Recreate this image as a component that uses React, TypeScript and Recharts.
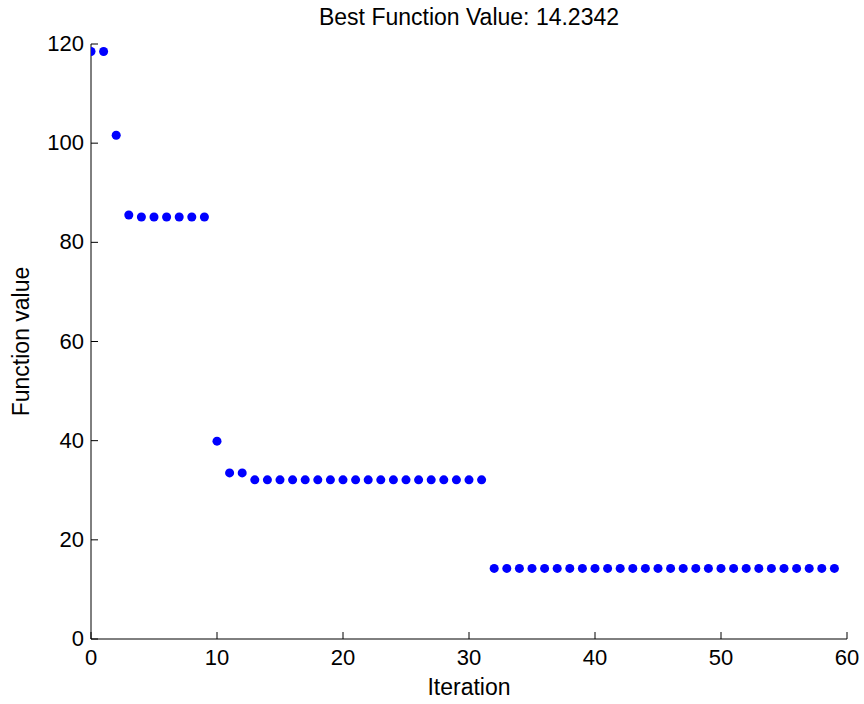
import { ScatterChart, Scatter, XAxis, YAxis, ZAxis, Label } from 'recharts';

const FONT = '"Liberation Sans", Arial, sans-serif';

// best function value at each iteration
const iterations = Array.from({ length: 60 }, (_, i) => i);
const bestValues = [
  118.5, 118.5, 101.6, 85.5, 85.1, 85.1, 85.1, 85.1, 85.1, 85.1,
  39.9, 33.5, 33.5, 32.1, 32.1, 32.1, 32.1, 32.1, 32.1, 32.1,
  32.1, 32.1, 32.1, 32.1, 32.1, 32.1, 32.1, 32.1, 32.1, 32.1,
  32.1, 32.1, 14.2342, 14.2342, 14.2342, 14.2342, 14.2342, 14.2342, 14.2342, 14.2342,
  14.2342, 14.2342, 14.2342, 14.2342, 14.2342, 14.2342, 14.2342, 14.2342, 14.2342, 14.2342,
  14.2342, 14.2342, 14.2342, 14.2342, 14.2342, 14.2342, 14.2342, 14.2342, 14.2342, 14.2342,
];
const xTicks = [0, 10, 20, 30, 40, 50, 60];
const yTicks = [0, 20, 40, 60, 80, 100, 120];
const title = 'Best Function Value: 14.2342';

const data = iterations.map((it, i) => ({ it, val: bestValues[i] }));

// MATLAB style: tick marks point into the plot
const XTick = (props: any) => {
  const { x, y, payload } = props;
  return (
    <g>
      <line x1={x} x2={x} y1={y} y2={y - 7} stroke="#000" />
      <text x={x} y={y + 26} textAnchor="middle" fontSize={22} fill="#000" fontFamily={FONT}>
        {payload.value}
      </text>
    </g>
  );
};

const YTick = (props: any) => {
  const { x, y, payload } = props;
  return (
    <g>
      <line x1={x} x2={x + 7} y1={y} y2={y} stroke="#000" />
      <text x={x - 7} y={y + 7} textAnchor="end" fontSize={22} fill="#000" fontFamily={FONT}>
        {payload.value}
      </text>
    </g>
  );
};

export default function App() {
  return (
    <div style={{ position: 'absolute', left: 0, top: 0, width: 864, height: 704, background: '#fff' }}>
      <div
        style={{
          position: 'absolute',
          left: 91,
          width: 756,
          top: 4,
          textAlign: 'center',
          fontFamily: FONT,
          fontSize: 23,
          color: '#000',
        }}
      >
        {title}
      </div>
      <ScatterChart width={864} height={704} margin={{ top: 44, right: 17, left: 0, bottom: 0 }}>
        <XAxis
          type="number"
          dataKey="it"
          domain={[0, 60]}
          ticks={xTicks}
          height={65}
          tickSize={0}
          tickMargin={0}
          tickLine={false}
          tick={<XTick />}
          axisLine={{ stroke: '#000' }}
          allowDataOverflow
        >
          <Label
            content={({ viewBox }: any) => (
              <text
                x={viewBox.x + viewBox.width / 2}
                y={viewBox.y + 56}
                textAnchor="middle"
                fontSize={23}
                fill="#000"
                fontFamily={FONT}
              >
                Iteration
              </text>
            )}
          />
        </XAxis>
        <YAxis
          type="number"
          dataKey="val"
          domain={[0, 120]}
          ticks={yTicks}
          width={91}
          tickSize={0}
          tickMargin={0}
          tickLine={false}
          tick={<YTick />}
          axisLine={{ stroke: '#000' }}
          allowDataOverflow
        >
          <Label
            content={({ viewBox }: any) => {
              const cy = viewBox.y + viewBox.height / 2;
              return (
                <text
                  x={29}
                  y={cy}
                  transform={`rotate(-90, 29, ${cy})`}
                  textAnchor="middle"
                  fontSize={23}
                  fill="#000"
                  fontFamily={FONT}
                >
                  Function value
                </text>
              );
            }}
          />
        </YAxis>
        <ZAxis range={[64, 64]} />
        <Scatter data={data} fill="#0000FF" isAnimationActive={false} />
      </ScatterChart>
    </div>
  );
}
